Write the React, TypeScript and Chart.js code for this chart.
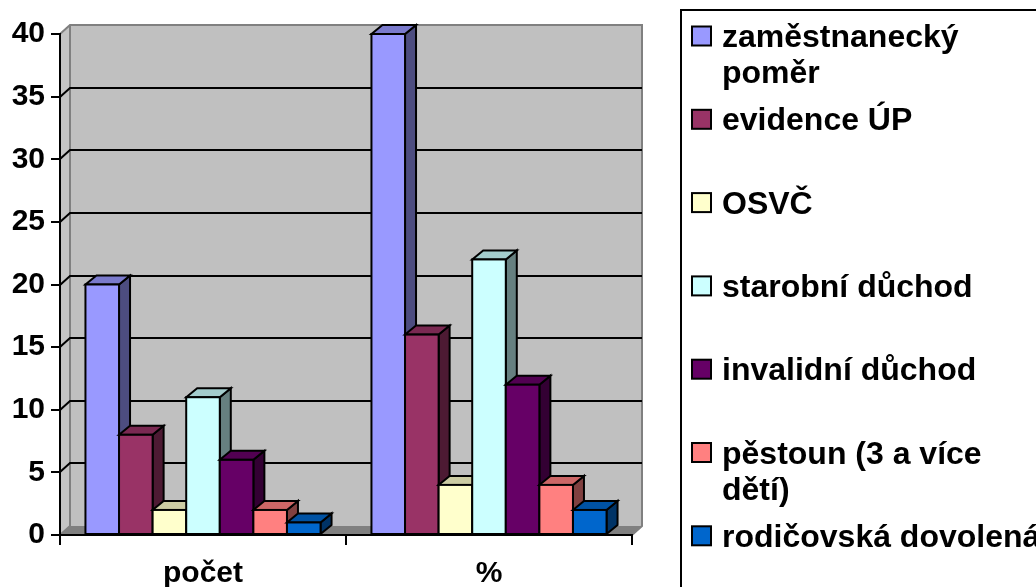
import React, { useEffect, useRef } from 'react';
import { Chart, registerables } from 'chart.js';

Chart.register(...registerables);

// ---- data ----
const categories = ['počet', '%'];
const seriesLabels: string[][] = [
  ['zaměstnanecký', 'poměr'],
  ['evidence ÚP'],
  ['OSVČ'],
  ['starobní důchod'],
  ['invalidní důchod'],
  ['pěstoun (3 a více', 'dětí)'],
  ['rodičovská dovolená'],
];
const zamestnanecky = [20, 40];
const evidenceUP = [8, 16];
const osvc = [2, 4];
const starobniDuchod = [11, 22];
const invalidniDuchod = [6, 12];
const pestoun = [2, 4];
const rodicovskaDovolena = [1, 2];
const seriesValues = [zamestnanecky, evidenceUP, osvc, starobniDuchod, invalidniDuchod, pestoun, rodicovskaDovolena];
const yMin = 0;
const yMax = 40;
const yStep = 5;

// ---- styles ----
const frontColors = ['#9999FF', '#993366', '#FFFFCC', '#CCFFFF', '#660066', '#FF8080', '#0066CC'];
const topColors = ['#7A7ACC', '#7A2952', '#CCCCA3', '#A3CCCC', '#520052', '#CC6666', '#0052A3'];
const sideColors = ['#4D4D80', '#4D1A33', '#808066', '#668080', '#330033', '#804040', '#003366'];
const FONT = '"Liberation Sans", Arial, sans-serif';

const WALL_DX = 10;
const WALL_DY = -9;
const BAR_DX = 11;
const BAR_DY = -9;

const wallPlugin = {
  id: 'wall3d',
  beforeDraw(chart: any) {
    const { ctx, chartArea, scales } = chart;
    const { left, right, top, bottom } = chartArea;
    const y = scales.y;
    ctx.save();
    // back wall
    ctx.fillStyle = '#C0C0C0';
    ctx.fillRect(left + WALL_DX, top + WALL_DY, right - left, bottom - top);
    // left wall
    ctx.beginPath();
    ctx.moveTo(left, top);
    ctx.lineTo(left + WALL_DX, top + WALL_DY);
    ctx.lineTo(left + WALL_DX, bottom + WALL_DY);
    ctx.lineTo(left, bottom);
    ctx.closePath();
    ctx.fillStyle = '#C4C4C4';
    ctx.fill();
    // floor
    ctx.beginPath();
    ctx.moveTo(left, bottom);
    ctx.lineTo(left + WALL_DX, bottom + WALL_DY);
    ctx.lineTo(right + WALL_DX, bottom + WALL_DY);
    ctx.lineTo(right, bottom);
    ctx.closePath();
    ctx.fillStyle = '#808080';
    ctx.fill();
    // wall borders
    ctx.strokeStyle = '#808080';
    ctx.lineWidth = 2;
    ctx.beginPath();
    ctx.moveTo(left, top);
    ctx.lineTo(left + WALL_DX, top + WALL_DY);
    ctx.lineTo(right + WALL_DX, top + WALL_DY);
    ctx.lineTo(right + WALL_DX, bottom + WALL_DY);
    ctx.lineTo(right, bottom);
    ctx.moveTo(left + WALL_DX, top + WALL_DY);
    ctx.lineTo(left + WALL_DX, bottom + WALL_DY);
    ctx.lineTo(left, bottom);
    ctx.stroke();
    // gridlines on back wall
    ctx.strokeStyle = '#000';
    ctx.lineWidth = 2;
    for (let v = yMin + yStep; v < yMax; v += yStep) {
      const py = Math.round(y.getPixelForValue(v));
      ctx.beginPath();
      ctx.moveTo(left, py);
      ctx.lineTo(left + WALL_DX, py + WALL_DY);
      ctx.lineTo(right + WALL_DX, py + WALL_DY);
      ctx.stroke();
    }
    ctx.restore();
  },
};

const bars3dPlugin = {
  id: 'bars3d',
  afterDatasetsDraw(chart: any) {
    const { ctx } = chart;
    ctx.save();
    ctx.lineWidth = 2;
    ctx.strokeStyle = '#000';
    ctx.lineJoin = 'miter';
    chart.data.datasets.forEach((ds: any, i: number) => {
      const meta = chart.getDatasetMeta(i);
      meta.data.forEach((el: any) => {
        const l = el.x - el.width / 2;
        const r = el.x + el.width / 2;
        const t = el.y;
        const b = el.base;
        // side
        ctx.beginPath();
        ctx.moveTo(r, b);
        ctx.lineTo(r + BAR_DX, b + BAR_DY);
        ctx.lineTo(r + BAR_DX, t + BAR_DY);
        ctx.lineTo(r, t);
        ctx.closePath();
        ctx.fillStyle = sideColors[i];
        ctx.fill();
        ctx.stroke();
        // top
        ctx.beginPath();
        ctx.moveTo(l, t);
        ctx.lineTo(l + BAR_DX, t + BAR_DY);
        ctx.lineTo(r + BAR_DX, t + BAR_DY);
        ctx.lineTo(r, t);
        ctx.closePath();
        ctx.fillStyle = topColors[i];
        ctx.fill();
        ctx.stroke();
        // front
        ctx.fillStyle = frontColors[i];
        ctx.fillRect(l, t, r - l, b - t);
        ctx.strokeRect(l, t, r - l, b - t);
      });
    });
    ctx.restore();
  },
};

const legendPlugin = {
  id: 'legendBox',
  afterDraw(chart: any) {
    const { ctx } = chart;
    ctx.save();
    ctx.strokeStyle = '#000';
    ctx.lineWidth = 2;
    ctx.strokeRect(681, 10, 600, 700);
    ctx.font = `bold 32px ${FONT}`;
    ctx.textAlign = 'left';
    ctx.textBaseline = 'alphabetic';
    seriesLabels.forEach((lines, i) => {
      const cy = 36 + 83.3 * i;
      ctx.fillStyle = frontColors[i];
      ctx.fillRect(692, cy - 9.5, 19, 19);
      ctx.lineWidth = 2;
      ctx.strokeRect(692, cy - 9.5, 19, 19);
      ctx.fillStyle = '#000';
      lines.forEach((line, j) => {
        ctx.fillText(line, 722, cy + 11 + j * 36);
      });
    });
    ctx.restore();
  },
};

export default function App() {
  const canvasRef = useRef<HTMLCanvasElement | null>(null);
  useEffect(() => {
    const canvas = canvasRef.current;
    if (!canvas) return;
    const chart = new Chart(canvas, {
      type: 'bar',
      data: {
        labels: categories,
        datasets: seriesValues.map((vals, i) => ({
          label: seriesLabels[i].join(' '),
          data: vals,
          backgroundColor: frontColors[i],
          borderWidth: 0,
          categoryPercentage: 0.822,
          barPercentage: 1,
        })),
      },
      options: {
        responsive: false,
        animation: false,
        devicePixelRatio: 1,
        layout: { padding: { top: 34, right: 404, bottom: 0, left: 0 } },
        plugins: { legend: { display: false }, tooltip: { enabled: false } },
        scales: {
          x: {
            type: 'category',
            offset: true,
            grid: { offset: true, drawOnChartArea: false, drawTicks: true, tickLength: 10, color: '#000', lineWidth: 2 },
            border: { display: true, color: '#000', width: 2 },
            ticks: { font: { family: FONT, size: 30, weight: 'bold' }, color: '#000', padding: 11, maxRotation: 0 },
            afterFit: (s: any) => { s.height = 52; },
          },
          y: {
            min: yMin,
            max: yMax,
            ticks: { stepSize: yStep, font: { family: FONT, size: 30, weight: 'bold' }, color: '#000', padding: 6 },
            grid: { drawOnChartArea: false, drawTicks: true, tickLength: 9, color: '#000', lineWidth: 2 },
            border: { display: true, color: '#000', width: 2 },
            afterFit: (s: any) => { s.width = 60; },
          },
        },
      },
      plugins: [wallPlugin, bars3dPlugin, legendPlugin],
    } as any);
    return () => chart.destroy();
  }, []);
  return (
    <div style={{ position: 'fixed', left: 0, top: 0, width: 1036, height: 587, background: '#fff' }}>
      <canvas ref={canvasRef} width={1036} height={587} />
    </div>
  );
}
